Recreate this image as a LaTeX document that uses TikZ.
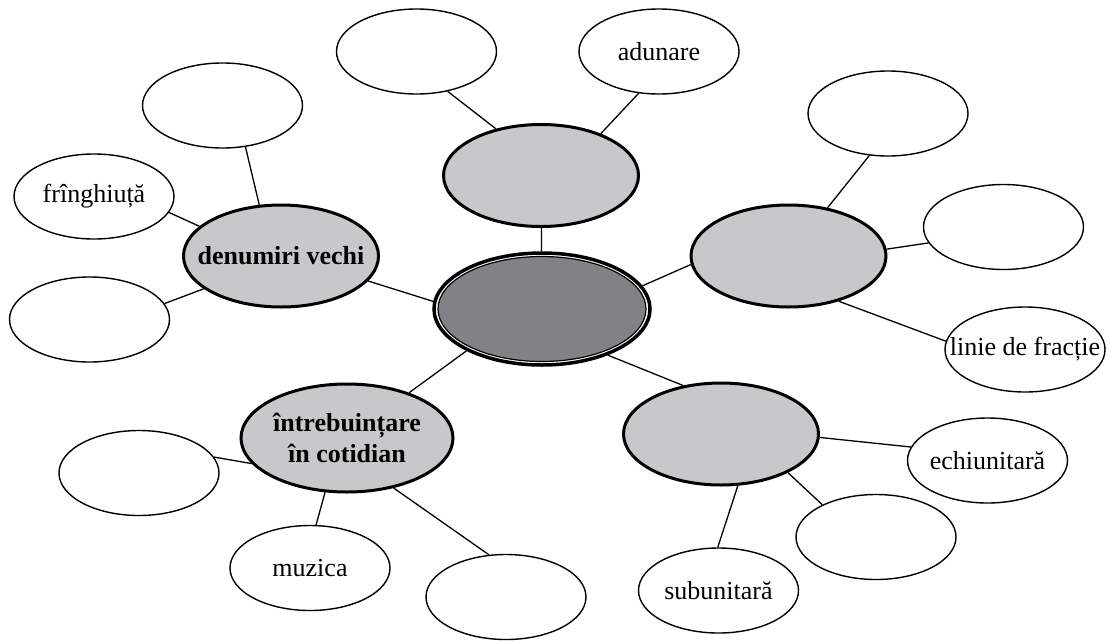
\documentclass[tikz,border=0pt]{standalone}
\usepackage{fontspec}
\setmainfont{Liberation Serif}
\usetikzlibrary{shapes.geometric}
\tikzset{every picture/.style={line width=0.75pt}}
\definecolor{topicgray}{HTML}{C7C8CA}
\definecolor{hubgray}{HTML}{808285}
\newcommand{\zw}[1]{\makebox[0pt]{#1}}

\begin{document}
\begin{tikzpicture}[x=1pt,y=1pt,yscale=-1,xscale=1,
	leaf/.style={ellipse,draw,line width=1.4pt,fill=white,inner sep=0pt,minimum width=160pt,minimum height=85pt,font=\fontsize{26}{31}\selectfont},
	topic/.style={ellipse,draw,line width=3pt,fill=topicgray,inner sep=0pt,minimum width=195pt,minimum height=102pt,font=\fontsize{26}{31}\selectfont\bfseries,align=center},
	link/.style={line width=1.3pt}]
	\useasboundingbox (0,0) rectangle (1107,640);
	
	%Shape: Ellipse [hub]
	\node [ellipse,draw,line width=3.5pt,fill=white,inner sep=0pt,minimum width=216pt,minimum height=112pt] (hub) at (542,309) {};
	\draw [line width=1.2pt,fill=hubgray] (hub.center) ellipse [x radius=104, y radius=52.5];
	
	%Shape: Ellipse [topics]
	\node [topic] (top) at (541,175.5) {};
	\node [topic] (right) at (788.5,256) {};
	\node [topic] (lowright) at (721,434) {};
	\node [topic] (left) at (281,256) {\zw{denumiri vechi}};
	\node [topic,minimum width=212pt,minimum height=108pt] (uses) at (347,438) {\zw{întrebuințare}\\\zw{în cotidian}};
	
	%Shape: Ellipse [leaves]
	\node [leaf] (topA) at (416.5,51.5) {};
	\node [leaf] (adunare) at (659,51.5) {\zw{adunare}};
	\node [leaf] (leftA) at (222.5,105.5) {};
	\node [leaf] (franghiuta) at (94,196.5) {\zw{frînghiuță}};
	\node [leaf] (leftC) at (89.5,319.5) {};
	\node [leaf] (rightA) at (888,113.5) {};
	\node [leaf] (rightB) at (1003.5,227) {};
	\node [leaf] (linie) at (1025,349.5) {\zw{linie de fracție}};
	\node [leaf] (usesA) at (139,473) {};
	\node [leaf] (muzica) at (310,568) {\zw{muzica}};
	\node [leaf] (usesC) at (506,597) {};
	\node [leaf] (lowrightB) at (876,537) {};
	\node [leaf] (echiunitara) at (987.5,460.5) {\zw{echiunitară}};
	\node [leaf] (subunitara) at (718.5,590.5) {\zw{subunitară}};
	
	%Straight Lines [hub]
	\draw [link] (hub) -- (top);
	\draw [link] (hub.176) -- (left.-16);
	\draw [link] (hub.13) -- (right.185);
	\draw [link] (hub.-35) -- (lowright.128);
	\draw [link] (hub.209) -- (uses);
	%Straight Lines [top]
	\draw [link] (top.134) -- (topA.-52);
	\draw [link] (top.35) -- (adunare.244);
	%Straight Lines [left]
	\draw [link] (left.113) -- (leftA.-61);
	\draw [link] (left.160) -- (franghiuta.-12);
	\draw [link] (left.203) -- (leftC.12);
	%Straight Lines [right]
	\draw [link] (right.51) -- (rightA.246);
	\draw [link] (right.4) -- (rightB.192);
	\draw [link] (right.-42) -- (linie.174);
	%Straight Lines [lowright]
	\draw [link] (lowright.-72) -- (subunitara.91);
	\draw [link] (lowright.-30) -- (lowrightB.149);
	\draw [link] (lowright.-2) -- (echiunitara.170);
	%Straight Lines [uses]
	\draw [link] (uses.195) -- (usesA.12);
	\draw [link] (uses.-112) -- (muzica.82);
	\draw [link] (uses.-47) -- (usesC.112);
	
\end{tikzpicture}
\end{document}
